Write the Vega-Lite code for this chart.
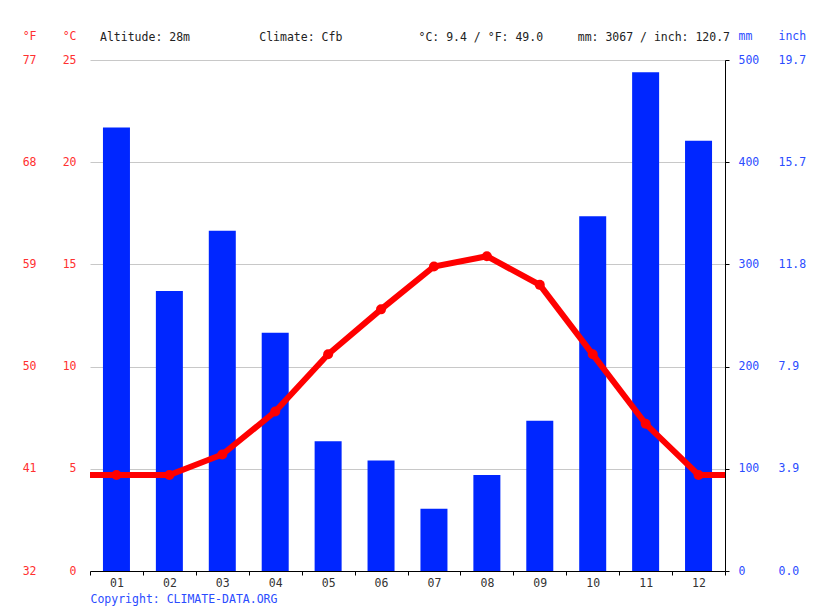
{
  "$schema": "https://vega.github.io/schema/vega-lite/v6.json",
  "width": 635,
  "height": 511,
  "autosize": {"type": "none"},
  "padding": {"left": 90, "top": 60, "right": 90, "bottom": 40},
  "background": "white",
  "config": {"view": {"stroke": null}, "font": "DejaVu Sans Mono"},
  "title": {
    "text": "Altitude: 28m\u00a0\u00a0\u00a0\u00a0\u00a0\u00a0\u00a0\u00a0\u00a0\u00a0Climate: Cfb\u00a0\u00a0\u00a0\u00a0\u00a0\u00a0\u00a0\u00a0\u00a0\u00a0\u00a0°C: 9.4 / °F: 49.0\u00a0\u00a0\u00a0\u00a0\u00a0mm: 3067 / inch: 120.7",
    "anchor": "start",
    "frame": "group",
    "dx": 10,
    "dy": 13,
    "offset": 0,
    "font": "DejaVu Sans Mono",
    "fontSize": 11.5,
    "fontWeight": "normal",
    "color": "#222222"
  },
  "datasets": {
    "months": [
      {"m": 1, "prec": 434, "temp": 4.7},
      {"m": 2, "prec": 274, "temp": 4.7},
      {"m": 3, "prec": 333, "temp": 5.7},
      {"m": 4, "prec": 233, "temp": 7.8},
      {"m": 5, "prec": 127, "temp": 10.6},
      {"m": 6, "prec": 108, "temp": 12.8},
      {"m": 7, "prec": 61, "temp": 14.9},
      {"m": 8, "prec": 94, "temp": 15.4},
      {"m": 9, "prec": 147, "temp": 14.0},
      {"m": 10, "prec": 347, "temp": 10.6},
      {"m": 11, "prec": 488, "temp": 7.2},
      {"m": 12, "prec": 421, "temp": 4.7}
    ],
    "line": [
      {"m": 0.5, "temp": 4.7},
      {"m": 1, "temp": 4.7},
      {"m": 2, "temp": 4.7},
      {"m": 3, "temp": 5.7},
      {"m": 4, "temp": 7.8},
      {"m": 5, "temp": 10.6},
      {"m": 6, "temp": 12.8},
      {"m": 7, "temp": 14.9},
      {"m": 8, "temp": 15.4},
      {"m": 9, "temp": 14.0},
      {"m": 10, "temp": 10.6},
      {"m": 11, "temp": 7.2},
      {"m": 12, "temp": 4.7},
      {"m": 12.5, "temp": 4.7}
    ]
  },
  "resolve": {"scale": {"y": "independent"}},
  "layer": [
    {
      "data": {"name": "months"},
      "mark": {"type": "bar", "width": 27, "color": "#0026ff"},
      "encoding": {
        "x": {
          "field": "m", "type": "quantitative",
          "scale": {"domain": [0.5, 12.5], "nice": false, "zero": false, "padding": 0},
          "axis": {
            "values": [0.5, 1.5, 2.5, 3.5, 4.5, 5.5, 6.5, 7.5, 8.5, 9.5, 10.5, 11.5, 12.5],
            "labelExpr": "datum.value > 12 ? '' : (datum.value < 9 ? '0' : '') + (datum.value + 0.5)",
            "labelOffset": 26.46, "labelFlush": false, "labelOverlap": false, "labelBound": false,
            "tickSize": 4, "tickColor": "#000000", "domainColor": "#000000", "grid": false,
            "labelFont": "DejaVu Sans Mono", "labelFontSize": 11.5, "labelColor": "#333333", "labelPadding": 2,
            "title": "Copyright: CLIMATE-DATA.ORG", "titleX": 0, "titleY": 28, "titleAlign": "left",
            "titleBaseline": "middle", "titleColor": "#2b4cff", "titleFont": "DejaVu Sans Mono",
            "titleFontSize": 11.5, "titleFontWeight": "normal"
          }
        },
        "y": {
          "field": "prec", "type": "quantitative",
          "scale": {"domain": [0, 500], "nice": false},
          "axis": {
            "orient": "right", "values": [0, 100, 200, 300, 400, 500],
            "grid": true, "gridColor": "#c8c8c8", "gridWidth": 1,
            "domainColor": "#000000", "tickColor": "#000000", "tickSize": 4,
            "labelPadding": 9, "labelColor": "#2b4cff", "labelFont": "DejaVu Sans Mono", "labelFontSize": 11.5,
            "title": "mm", "titleAngle": 0, "titleX": 13, "titleY": -24, "titleAlign": "left",
            "titleBaseline": "middle", "titleColor": "#2b4cff", "titleFont": "DejaVu Sans Mono",
            "titleFontSize": 11.5, "titleFontWeight": "normal"
          }
        }
      }
    },
    {
      "data": {"name": "months"},
      "mark": {"type": "rule", "opacity": 0},
      "encoding": {
        "y": {
          "datum": 0, "type": "quantitative",
          "scale": {"domain": [0, 500], "nice": false},
          "axis": {
            "orient": "right", "offset": 40, "values": [0, 100, 200, 300, 400, 500],
            "labelExpr": "format(datum.value / 25.4, '.1f')",
            "grid": false, "domain": false, "ticks": false, "tickSize": 0,
            "labelPadding": 13, "labelColor": "#2b4cff", "labelFont": "DejaVu Sans Mono", "labelFontSize": 11.5,
            "title": "inch", "titleAngle": 0, "titleX": 13, "titleY": -24, "titleAlign": "left",
            "titleBaseline": "middle", "titleColor": "#2b4cff", "titleFont": "DejaVu Sans Mono",
            "titleFontSize": 11.5, "titleFontWeight": "normal"
          }
        }
      }
    },
    {
      "data": {"name": "months"},
      "mark": {"type": "rule", "opacity": 0},
      "encoding": {
        "y": {
          "datum": 0, "type": "quantitative",
          "scale": {"domain": [0, 25], "nice": false},
          "axis": {
            "orient": "left", "offset": 40, "values": [0, 5, 10, 15, 20, 25],
            "labelExpr": "format(datum.value * 9 / 5 + 32, 'd')",
            "grid": false, "domain": false, "ticks": false, "tickSize": 0,
            "labelPadding": 14, "labelColor": "#ff3030", "labelFont": "DejaVu Sans Mono", "labelFontSize": 11.5,
            "title": "°F", "titleAngle": 0, "titleX": -14, "titleY": -24, "titleAlign": "right",
            "titleBaseline": "middle", "titleColor": "#ff3030", "titleFont": "DejaVu Sans Mono",
            "titleFontSize": 11.5, "titleFontWeight": "normal"
          }
        }
      }
    },
    {
      "data": {"name": "line"},
      "mark": {"type": "line", "color": "#ff0000", "strokeWidth": 6},
      "encoding": {
        "x": {
          "field": "m", "type": "quantitative",
          "scale": {"domain": [0.5, 12.5], "nice": false, "zero": false, "padding": 0}
        },
        "y": {
          "field": "temp", "type": "quantitative",
          "scale": {"domain": [0, 25], "nice": false},
          "axis": {
            "orient": "left", "values": [0, 5, 10, 15, 20, 25],
            "grid": false, "domain": false, "ticks": false, "tickSize": 0,
            "labelPadding": 14, "labelColor": "#ff3030", "labelFont": "DejaVu Sans Mono", "labelFontSize": 11.5,
            "title": "°C", "titleAngle": 0, "titleX": -14, "titleY": -24, "titleAlign": "right",
            "titleBaseline": "middle", "titleColor": "#ff3030", "titleFont": "DejaVu Sans Mono",
            "titleFontSize": 11.5, "titleFontWeight": "normal"
          }
        }
      }
    },
    {
      "data": {"name": "months"},
      "mark": {"type": "point", "filled": true, "color": "#ff0000", "opacity": 1, "size": 100},
      "encoding": {
        "x": {
          "field": "m", "type": "quantitative",
          "scale": {"domain": [0.5, 12.5], "nice": false, "zero": false, "padding": 0}
        },
        "y": {
          "field": "temp", "type": "quantitative",
          "scale": {"domain": [0, 25], "nice": false},
          "axis": null
        }
      }
    }
  ]
}
